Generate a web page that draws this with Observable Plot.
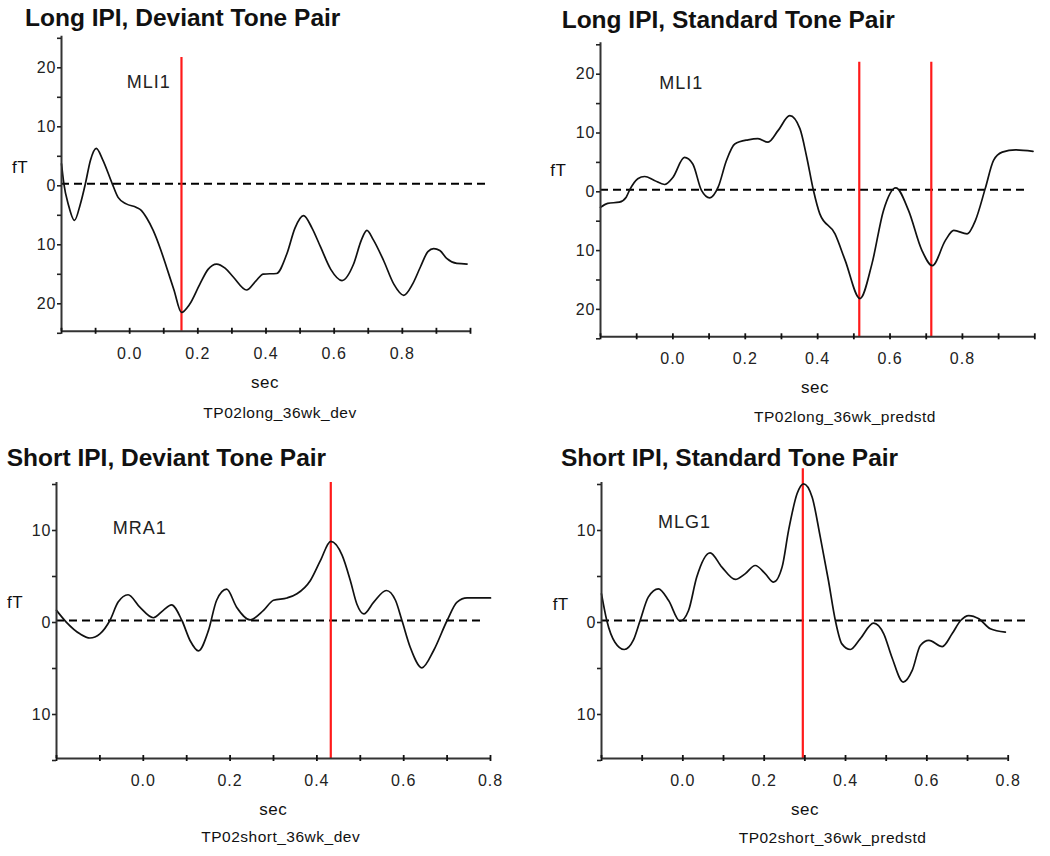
<!DOCTYPE html>
<html><head><meta charset="utf-8">
<script src="https://cdn.jsdelivr.net/npm/d3@7"></script>
<script src="https://cdn.jsdelivr.net/npm/@observablehq/plot@0.6"></script>
<style>
body{margin:0;background:#fff;}
#root{position:relative;width:1050px;height:856px;overflow:hidden;font-family:"Liberation Sans",Arial,sans-serif;color:#111;}
.t{position:absolute;white-space:nowrap;line-height:1;}
.panel{position:absolute;width:525px;}
</style></head><body><div id="root"></div>
<script>
// ---------- DATA ----------
const titles = ["Long IPI, Deviant Tone Pair", "Long IPI, Standard Tone Pair", "Short IPI, Deviant Tone Pair", "Short IPI, Standard Tone Pair"];
const captions = ["TP02long_36wk_dev", "TP02long_36wk_predstd", "TP02short_36wk_dev", "TP02short_36wk_predstd"];
const channels = ["MLI1", "MLI1", "MRA1", "MLG1"];
const xLabel = "sec";
const yLabel = "fT";

// time (sec) and amplitude (fT) of each waveform
const p1Sec = [-0.2,-0.193,-0.18,-0.162,-0.145,-0.13,-0.115,-0.098,-0.08,-0.051,-0.034,-0.01,0.02,0.034,0.05,0.069,0.09,0.108,0.13,0.152,0.175,0.206,0.23,0.255,0.28,0.304,0.343,0.37,0.392,0.431,0.461,0.485,0.51,0.535,0.56,0.59,0.623,0.657,0.68,0.696,0.715,0.745,0.775,0.804,0.83,0.853,0.875,0.892,0.91,0.931,0.96,0.99];
const p1fT  = [3.4,0,-3.5,-6.2,-3.5,0,4,6.0,4.2,0,-2.3,-3.4,-4.0,-4.5,-5.8,-7.9,-11,-14.1,-18,-21.8,-20.5,-17,-14.5,-13.6,-14.3,-15.8,-18,-16.5,-15.3,-15.2,-11.9,-7.5,-5.4,-7.5,-10.7,-14.5,-16.4,-13.6,-9.5,-7.9,-9.5,-13,-17,-18.9,-17,-14.1,-11.5,-11,-11.3,-12.7,-13.5,-13.6];

const p2Sec = [-0.2,-0.18,-0.148,-0.129,-0.12,-0.097,-0.078,-0.051,-0.023,0,0.032,0.055,0.079,0.102,0.125,0.148,0.171,0.208,0.235,0.263,0.291,0.323,0.351,0.37,0.388,0.406,0.448,0.476,0.517,0.55,0.582,0.616,0.651,0.688,0.717,0.753,0.776,0.813,0.836,0.863,0.886,0.91,0.947,0.995];
const p2fT  = [-3.0,-2.3,-2.1,-1.25,-0.1,1.87,2.26,1.58,0.9,2.1,5.5,4.4,-0.1,-1.37,0.44,4.98,7.8,8.5,8.7,8.1,10.1,12.6,10.4,5.5,0,-4.1,-7.5,-12.0,-18.5,-12.6,-3.5,0.34,-3.5,-10.3,-12.9,-8.6,-6.9,-7.5,-5.2,0.2,5.0,6.4,6.8,6.55];

const p3Sec = [-0.2,-0.177,-0.146,-0.123,-0.1,-0.077,-0.058,-0.035,-0.008,0.023,0.046,0.065,0.089,0.108,0.127,0.15,0.169,0.192,0.215,0.246,0.277,0.3,0.331,0.354,0.385,0.408,0.432,0.458,0.477,0.492,0.508,0.531,0.56,0.581,0.596,0.615,0.642,0.669,0.7,0.723,0.746,0.8];
const p3fT  = [1.1,-0.2,-1.45,-1.9,-1.45,0,2.0,2.8,1.45,0.3,1.1,1.7,0,-2.2,-3.3,-1.1,2.2,3.4,1.45,0.07,1.1,2.2,2.45,2.9,4.35,6.5,8.6,7.1,4.35,1.8,0.72,2.0,3.26,2.2,0,-2.9,-5.14,-3.26,0,2.0,2.45,2.45];

const p4Sec = [-0.2,-0.187,-0.167,-0.144,-0.122,-0.105,-0.085,-0.06,-0.035,-0.007,0.014,0.034,0.067,0.096,0.129,0.153,0.178,0.203,0.223,0.244,0.26,0.281,0.297,0.318,0.338,0.358,0.375,0.391,0.412,0.436,0.469,0.494,0.514,0.542,0.564,0.584,0.605,0.638,0.662,0.683,0.703,0.728,0.756,0.793];
const p4fT  = [2.9,0,-2.36,-3.15,-2.17,0,2.54,3.44,2.17,-0.07,1.09,4.7,7.36,5.8,4.46,5.07,5.98,5.07,4.17,5.8,9.8,13.8,14.86,13.4,9.06,4.35,0,-2.54,-3.15,-2.0,-0.29,-1.45,-3.99,-6.7,-5.43,-2.72,-2.17,-2.83,-1.45,0,0.54,0.18,-0.9,-1.27];

// red marker latencies (sec)
const markers = [[0.152], [0.515, 0.714], [0.432], [0.295]];

// axes
const longXTicks  = [-0.2,-0.1,0,0.1,0.2,0.3,0.4,0.5,0.6,0.7,0.8,0.9,1.0];
const shortXTicks = [-0.2,-0.1,0,0.1,0.2,0.3,0.4,0.5,0.6,0.7,0.8];
const xTickLabels = [0, 0.2, 0.4, 0.6, 0.8];
const longYTicks  = [-25,-20,-15,-10,-5,0,5,10,15,20,25];
const shortYTicks = [-15,-10,-5,0,5,10,15];
const longYLabels  = [-20,-10,0,10,20];
const shortYLabels = [-10,0,10];

// ---------- LAYOUT ----------
const panels = [
  {sec:p1Sec, amp:p1fT, left:0, top:0, h:430, ml:61, mr:55, mt:35.8, mb:99.2, xd:[-0.2,1.0], yd:[-25,25],
   xt:longXTicks, yt:longYTicks, yl:longYLabels, dash:[-0.2,1.045], redTop:21.4, ann:[0.056,17.2],
   title:[25,26.7], fTpos:[20,173.3], secL:[265,388], cap:[280,418.3]},
  {sec:p2Sec, amp:p2fT, left:525, top:0, h:430, ml:75, mr:15.7, mt:42.3, mb:93.7, xd:[-0.2,1.0], yd:[-25,25],
   xt:longXTicks, yt:longYTicks, yl:longYLabels, dash:[-0.2,0.98], redTop:21.7, ann:[0.023,18.1],
   title:[561.7,28.3], fTpos:[558.3,176.7], secL:[815,393.3], cap:[845,421.7]},
  {sec:p3Sec, amp:p3fT, left:0, top:430, h:426, ml:56, mr:35, mt:52, mb:98, xd:[-0.2,0.8], yd:[-15,15],
   xt:shortXTicks, yt:shortYTicks, yl:shortYLabels, dash:[-0.2,0.785], redTop:15, ann:[-0.008,10.0],
   title:[6.7,466.7], fTpos:[15,608.3], secL:[273.3,815], cap:[280.7,841.7]},
  {sec:p4Sec, amp:p4fT, left:525, top:430, h:426, ml:76, mr:42.3, mt:52, mb:98, xd:[-0.2,0.8], yd:[-15,15],
   xt:shortXTicks, yt:shortYTicks, yl:shortYLabels, dash:[-0.2,0.85], redTop:16.5, ann:[0.004,10.7],
   title:[561,466.7], fTpos:[560.7,610], secL:[805,815], cap:[832.5,843.3]}
];

const root = document.getElementById("root");
const FONT = '"Liberation Sans", Arial, sans-serif';

function addText(text, x, base, {size = 15, weight = "normal", anchor = "start", ls = "0.5px"} = {}) {
  const d = document.createElement("div");
  d.className = "t";
  d.textContent = text;
  d.style.fontSize = size + "px";
  d.style.fontWeight = weight;
  d.style.letterSpacing = ls;
  d.style.top = (base - 0.8465 * size) + "px";
  d.style.left = x + "px";
  if (anchor === "middle") d.style.transform = "translateX(-50%)";
  root.appendChild(d);
}

panels.forEach((p, i) => {
  const data = p.sec.map((s, k) => ({sec: s, fT: p.amp[k]}));
  const chart = Plot.plot({
    width: 525, height: p.h,
    marginLeft: p.ml, marginRight: p.mr, marginTop: p.mt, marginBottom: p.mb,
    style: {fontFamily: FONT, fontSize: "16px", color: "#222", background: "none", letterSpacing: "1px", overflow: "visible"},
    x: {domain: p.xd},
    y: {domain: p.yd},
    marks: [
      Plot.ruleY([0], {x1: p.dash[0], x2: p.dash[1], stroke: "#000", strokeWidth: 2, strokeDasharray: "8,5"}),
      Plot.ruleX(markers[i], {y1: p.yd[0], y2: p.redTop, stroke: "#ff1a1a", strokeWidth: 2.2}),
      Plot.line(data, {x: "sec", y: "fT", curve: "monotone-x", stroke: "#111", strokeWidth: 1.7}),
      Plot.ruleX([p.xd[0]], {stroke: "#333", strokeWidth: 2}),
      Plot.ruleY([p.yd[0]], {x1: p.xd[0], x2: p.xd[1], stroke: "#333", strokeWidth: 2}),
      Plot.ruleX(p.xt, {y1: p.yd[0], y2: p.yd[0], insetTop: 3, insetBottom: 3, stroke: "#111", strokeWidth: 1.8}),
      Plot.axisX({ticks: xTickLabels, tickSize: 0, tickPadding: 16, tickFormat: d3.format(".1f"), label: null}),
      Plot.axisY({ticks: p.yt, tickSize: 4, tickPadding: 1, strokeWidth: 1.6,
                  tickFormat: d => p.yl.includes(d) ? String(Math.abs(d)) : "", label: null, dy: 2}),
      Plot.text([channels[i]], {x: p.ann[0], y: p.ann[1], text: d => d, fontSize: 18, fill: "#222"})
    ]
  });
  const wrap = document.createElement("div");
  wrap.className = "panel";
  wrap.style.left = p.left + "px";
  wrap.style.top = p.top + "px";
  wrap.appendChild(chart);
  root.appendChild(wrap);
});

panels.forEach((p, i) => {
  addText(titles[i], p.title[0], p.title[1], {size: 24.5, weight: "bold", ls: "0px"});
  addText(yLabel, p.fTpos[0], p.fTpos[1], {size: 17, anchor: "middle"});
  addText(xLabel, p.secL[0], p.secL[1], {size: 17, anchor: "middle"});
  addText(captions[i], p.cap[0], p.cap[1], {size: 15.5, anchor: "middle"});
});
</script>
</body></html>
